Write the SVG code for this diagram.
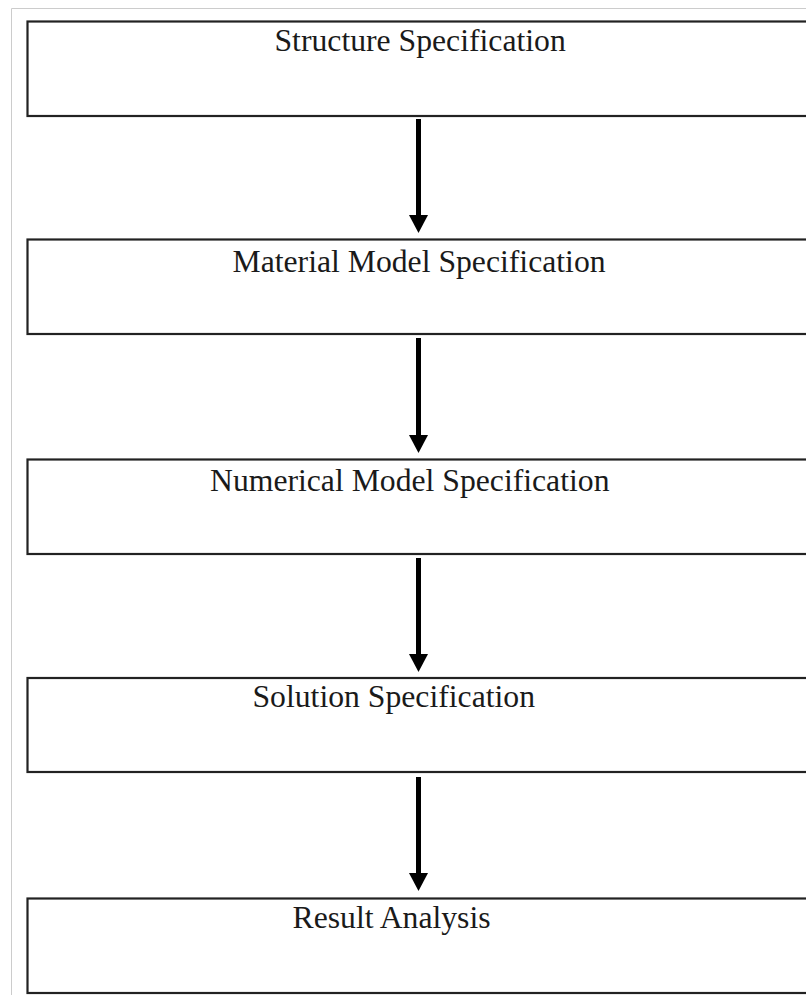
<svg xmlns="http://www.w3.org/2000/svg" width="806" height="995" viewBox="0 0 806 995">
<style>
.box{fill:#ffffff;stroke:#222222;stroke-width:2.2}
.lbl{font-family:"Liberation Serif","Times New Roman",serif;font-size:31.7px;fill:#1a1a1a}
.conn{stroke:#000000;stroke-width:5;fill:none}
</style>
<defs>
<marker id="ah" markerUnits="userSpaceOnUse" markerWidth="20" markerHeight="20" viewBox="0 0 20 20" refX="0" refY="10" orient="auto">
<path d="M0,0.5 L18,10 L0,19.5 Z" fill="#000000"/>
</marker>
</defs>
<rect x="0" y="0" width="806" height="995" fill="#ffffff"/>
<path d="M11.5,995 L11.5,8.5 L806,8.5" fill="none" stroke="#cccccc" stroke-width="1"/>
<g id="node-structure">
<rect class="box" x="27.5" y="21.5" width="800" height="94.5"/>
<text class="lbl" x="274.5" y="51">Structure Specification</text>
</g>
<g id="node-material">
<rect class="box" x="27.5" y="239.5" width="800" height="94.5"/>
<text class="lbl" x="232.5" y="271.5">Material Model Specification</text>
</g>
<g id="node-numerical">
<rect class="box" x="27.5" y="459.5" width="800" height="94.5"/>
<text class="lbl" x="210" y="491">Numerical Model Specification</text>
</g>
<g id="node-solution">
<rect class="box" x="27.5" y="678" width="800" height="94"/>
<text class="lbl" x="252.5" y="707">Solution Specification</text>
</g>
<g id="node-result">
<rect class="box" x="27.5" y="898.5" width="800" height="94.5"/>
<text class="lbl" x="292.5" y="928">Result Analysis</text>
</g>
<g id="connectors">
<path class="conn" d="M418.5,119 L418.5,215" marker-end="url(#ah)"/>
<path class="conn" d="M418.5,338 L418.5,435" marker-end="url(#ah)"/>
<path class="conn" d="M418.5,558 L418.5,654" marker-end="url(#ah)"/>
<path class="conn" d="M418.5,777 L418.5,873" marker-end="url(#ah)"/>
</g>
</svg>
